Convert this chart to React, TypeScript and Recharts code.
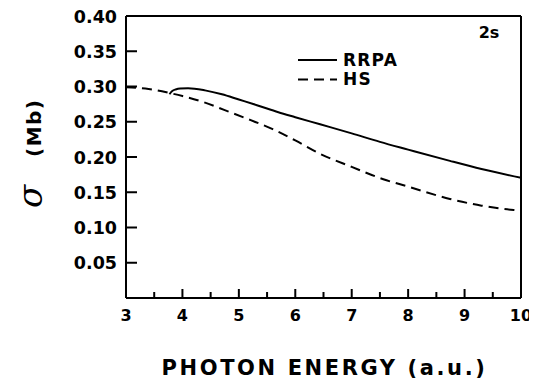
import React from 'react';
import { LineChart, Line, XAxis, YAxis, ReferenceLine, Legend } from 'recharts';

const hsEnergy = [3.0, 3.4, 3.78, 4.0, 4.37, 4.75, 5.2, 5.6, 6.0, 6.44, 7.0, 7.56, 8.0, 8.74, 9.3, 9.87, 10.0];
const hsSigma = [0.299, 0.2965, 0.2906, 0.2865, 0.278, 0.2665, 0.2526, 0.2395, 0.2235, 0.2045, 0.186, 0.1685, 0.158, 0.1405, 0.131, 0.1248, 0.124];

const rrpaEnergy = [3.77, 3.82, 3.88, 3.96, 4.1, 4.4, 4.7, 5.0, 5.32, 5.7, 6.0, 6.44, 7.0, 7.5, 8.0, 8.74, 9.3, 10.0];
const rrpaSigma = [0.289, 0.2935, 0.2958, 0.2972, 0.2975, 0.2945, 0.289, 0.2815, 0.2735, 0.2635, 0.2565, 0.2464, 0.2335, 0.2215, 0.2105, 0.1945, 0.183, 0.1705];

const seriesOrder = ['RRPA', 'HS'];

const xTicks = [3, 3.5, 4, 4.5, 5, 5.5, 6, 6.5, 7, 7.5, 8, 8.5, 9, 9.5, 10];
const yTicks = [0.05, 0.1, 0.15, 0.2, 0.25, 0.3, 0.35, 0.4];

const hsData = hsEnergy.map((e, i) => ({ energy: e, hs: hsSigma[i] }));
const rrpaData = rrpaEnergy.map((e, i) => ({ energy: e, rrpa: rrpaSigma[i] }));

const FONT = '"DejaVu Sans", sans-serif';

const XTick = (props: any) => {
  const { x, y, payload } = props;
  const v = payload.value;
  const major = Number.isInteger(v);
  return (
    <g>
      <line x1={x} x2={x} y1={y} y2={y - (major ? 9 : 6)} stroke="#000" strokeWidth={2} />
      {major && (
        <text x={x} y={y + 23} textAnchor="middle" fontFamily={FONT} fontWeight="bold" fontSize={16} fill="#000">
          {String(v)}
        </text>
      )}
    </g>
  );
};

const YTick = (props: any) => {
  const { x, y, payload } = props;
  return (
    <g>
      <line x1={x} x2={x + 11} y1={y} y2={y} stroke="#000" strokeWidth={2} />
      <text x={x - 9} y={y + 6.5} textAnchor="end" fontFamily={FONT} fontWeight="bold" fontSize={17.5} fill="#000">
        {Number(payload.value).toFixed(2)}
      </text>
    </g>
  );
};

const XLabel = (props: any) => {
  const vb = props.viewBox;
  return (
    <text x={vb.x + vb.width / 2 + 1} y={vb.y + 77} textAnchor="middle" fontFamily={FONT} fontWeight="bold" fontSize={21} letterSpacing={2.6} fill="#000">
      PHOTON ENERGY (a.u.)
    </text>
  );
};

const YLabel = () => (
  <g>
    <text transform="translate(34,200) rotate(-90)" textAnchor="start" fontFamily='"DejaVu Serif", serif' fontStyle="italic" fontSize={34} fill="#000">
      σ
    </text>
    <text transform="translate(33,149) rotate(-90)" textAnchor="start" fontFamily={FONT} fontWeight="bold" fontSize={20} letterSpacing={1.5} fill="#000">
      (Mb)
    </text>
  </g>
);

const TagLabel = (props: any) => {
  const vb = props.viewBox;
  return (
    <text x={vb.x + vb.width - 32} y={vb.y + 22} textAnchor="middle" fontFamily={FONT} fontWeight="bold" fontSize={16} fill="#000">
      2s
    </text>
  );
};

const renderLegend = (props: any) => {
  const items = [...(props.payload || [])].sort(
    (a: any, b: any) => seriesOrder.indexOf(a.value) - seriesOrder.indexOf(b.value)
  );
  return (
    <svg width={120} height={45} style={{ display: 'block' }}>
      {items.map((it: any, i: number) => (
        <g key={i}>
          <line
            x1={2}
            x2={41}
            y1={10 + i * 19.5}
            y2={10 + i * 19.5}
            stroke="#000"
            strokeWidth={2}
            strokeDasharray={it.payload?.strokeDasharray}
          />
          <text x={47} y={15.5 + i * 19.5} fontFamily={FONT} fontWeight="bold" fontSize={17} letterSpacing={1.2} fill="#000">
            {it.value}
          </text>
        </g>
      ))}
    </svg>
  );
};

export default function App() {
  return (
    <LineChart width={529} height={377} margin={{ top: 8, right: 16, left: 0, bottom: 0 }}>
      <XAxis
        dataKey="energy"
        type="number"
        domain={[3, 10]}
        ticks={xTicks}
        interval={0}
        allowDuplicatedCategory={false}
        tickSize={0}
        tickMargin={0}
        tickLine={false}
        tick={<XTick />}
        axisLine={{ stroke: '#000', strokeWidth: 2 }}
        height={87}
        label={{ content: <XLabel /> } as any}
      />
      <YAxis
        type="number"
        domain={[0, 0.4]}
        ticks={yTicks}
        interval={0}
        tickSize={0}
        tickMargin={0}
        tickLine={false}
        tick={<YTick />}
        axisLine={{ stroke: '#000', strokeWidth: 2 }}
        width={118}
        label={{ content: <YLabel /> } as any}
      />
      <ReferenceLine y={0.4} stroke="#000" strokeWidth={2} label={{ content: <TagLabel /> } as any} />
      <ReferenceLine x={10} stroke="#000" strokeWidth={2} />
      <Legend
        layout="vertical"
        align="center"
        verticalAlign="middle"
        content={renderLegend}
        wrapperStyle={{ position: 'absolute', left: 288, top: 42, width: 120, height: 45 }}
      />
      <Line
        data={rrpaData}
        dataKey="rrpa"
        name="RRPA"
        type="monotone"
        stroke="#000"
        strokeWidth={2}
        dot={false}
        isAnimationActive={false}
      />
      <Line
        data={hsData}
        dataKey="hs"
        name="HS"
        type="monotone"
        stroke="#000"
        strokeWidth={2}
        strokeDasharray="10 6"
        dot={false}
        isAnimationActive={false}
      />
    </LineChart>
  );
}
